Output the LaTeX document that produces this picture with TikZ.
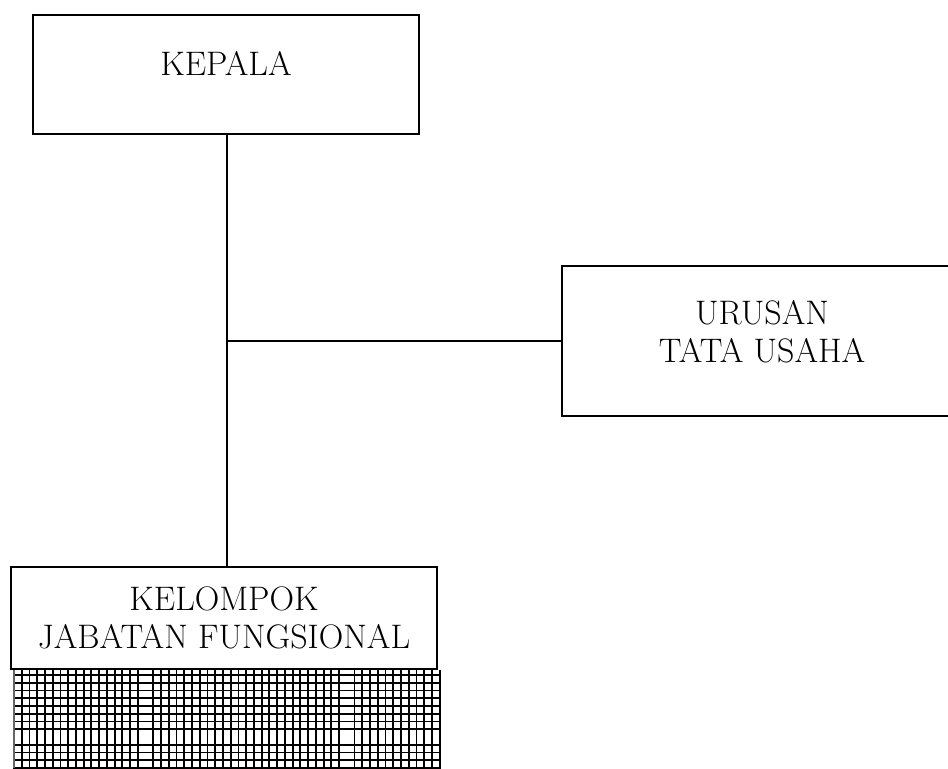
\documentclass[tikz,border=0pt]{standalone}
\begin{document}
\begin{tikzpicture}[x=0.75pt,y=-0.75pt,
  orgbox/.style={draw=black,line width=1.5pt,rectangle,inner sep=0pt},
  orgtext/.style={font=\fontsize{25.5}{28.5}\selectfont,align=center,inner sep=0pt},
  link/.style={draw=black,line width=1pt},
  hatch/.style={draw=black,line width=1.4pt}]
\useasboundingbox (0,0) rectangle (948,768);
% boxes
\node[orgbox,minimum width=386*0.75pt,minimum height=119*0.75pt] (kepala) at (226,74.5) {};
\node[orgbox,minimum width=392*0.75pt,minimum height=150*0.75pt] (urusan) at (758,341) {};
\node[orgbox,minimum width=426*0.75pt,minimum height=102*0.75pt] (kelompok) at (224,618) {};
% texts
\node[orgtext,anchor=base] (kepalaT) at (226,75) {KEPALA};
\node[orgtext] (urusanT) at (762,332) {URUSAN\\TATA USAHA};
\node[orgtext] (kelompokT) at (224,617.5) {KELOMPOK\\JABATAN FUNGSIONAL};
% connectors
\coordinate (j) at (227,341);
\draw[link] (j |- kepala.south) -- (j |- kelompok.north);
\draw[link] (j) -- (urusan.west);
% hatched area below
\begin{scope}
\clip (13,670) rectangle (441,768);
\foreach \i in {0,...,55}{
  \ifnum\i=17\else\ifnum\i=43\else
  \draw[hatch] ({14+\i*7.74},670) -- ({14+\i*7.74},770);
  \fi\fi
}
\foreach \k in {0,...,12}{
  \ifnum\k=8\else
  \draw[hatch] (14,{675+\k*7.75}) -- (440,{675+\k*7.75});
  \fi
}
\end{scope}
\draw[black!60,line width=1pt] (14,670) -- (14,768);
\end{tikzpicture}
\end{document}
